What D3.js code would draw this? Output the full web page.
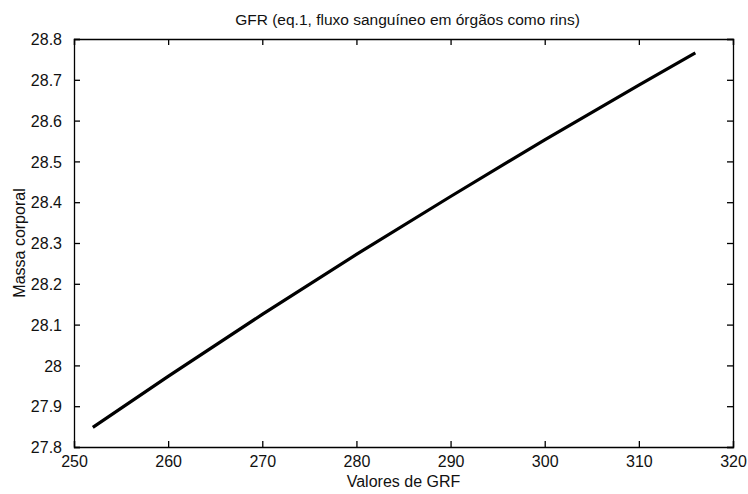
<!DOCTYPE html>
<html>
<head>
<meta charset="utf-8">
<script src="https://cdn.jsdelivr.net/npm/d3@7"></script>
<style>
  html, body { margin: 0; padding: 0; background: #fff; }
  text { font-family: "Liberation Sans", Arial, sans-serif; fill: #111; }
</style>
</head>
<body>
<script>
// Data
const grf = [252, 260, 270, 280, 290, 300, 310, 316];
const massa = [27.848, 27.973, 28.125, 28.272, 28.414, 28.553, 28.687, 28.766];
const xTicks = [250, 260, 270, 280, 290, 300, 310, 320];
const yTicks = [27.8, 27.9, 28, 28.1, 28.2, 28.3, 28.4, 28.5, 28.6, 28.7, 28.8];
const titleText = "GFR (eq.1, fluxo sanguíneo em órgãos como rins)";
const xLabel = "Valores de GRF";
const yLabel = "Massa corporal";

const W = 748, H = 494;
const m = { left: 74, right: 733, top: 39, bottom: 447 };

const svg = d3.select("body").append("svg").attr("width", W).attr("height", H);
svg.append("rect").attr("width", W).attr("height", H).attr("fill", "#fff");

const x = d3.scaleLinear().domain([250, 320]).range([m.left, m.right]);
const y = d3.scaleLinear().domain([27.8, 28.8]).range([m.bottom, m.top]);

const fmt = d => String(+d.toFixed(1));
const tl = 6;

const gB = svg.append("g").attr("transform", `translate(0,${m.bottom})`)
  .call(d3.axisBottom(x).tickValues(xTicks).tickSize(-tl).tickPadding(20).tickFormat(fmt));
const gT = svg.append("g").attr("transform", `translate(0,${m.top})`)
  .call(d3.axisTop(x).tickValues(xTicks).tickSize(-tl).tickFormat(""));
const gL = svg.append("g").attr("transform", `translate(${m.left},0)`)
  .call(d3.axisLeft(y).tickValues(yTicks).tickSize(-tl).tickPadding(12).tickFormat(fmt));
const gR = svg.append("g").attr("transform", `translate(${m.right},0)`)
  .call(d3.axisRight(y).tickValues(yTicks).tickSize(-tl).tickFormat(""));

[gB, gT, gL, gR].forEach(g => {
  g.select(".domain").attr("stroke", "#000").attr("stroke-width", 1.3);
  g.selectAll(".tick line").attr("stroke", "#000").attr("stroke-width", 1.3);
  g.selectAll(".tick text").style("font-family", '"Liberation Sans", Arial, sans-serif')
    .style("font-size", "16px").attr("fill", "#1a1a1a");
});
gB.selectAll(".tick text").attr("dy", null).attr("y", 20);
gL.selectAll(".tick text").attr("dy", "0.36em");
gT.selectAll(".tick text").remove();
gR.selectAll(".tick text").remove();

const line = d3.line().curve(d3.curveMonotoneX).x((d, i) => x(grf[i])).y(d => y(d));
svg.append("path").datum(massa)
  .attr("d", line)
  .attr("fill", "none").attr("stroke", "#000").attr("stroke-width", 3.2);

svg.append("text").attr("x", (m.left + m.right) / 2 + 4).attr("y", 25)
  .attr("text-anchor", "middle").style("font-size", "15.5px").text(titleText);
svg.append("text").attr("x", (m.left + m.right) / 2).attr("y", 487)
  .attr("text-anchor", "middle").style("font-size", "16px").text(xLabel);
svg.append("text").attr("transform", `translate(25,${(m.top + m.bottom) / 2}) rotate(-90)`)
  .attr("text-anchor", "middle").style("font-size", "16px").text(yLabel);
</script>
</body>
</html>
